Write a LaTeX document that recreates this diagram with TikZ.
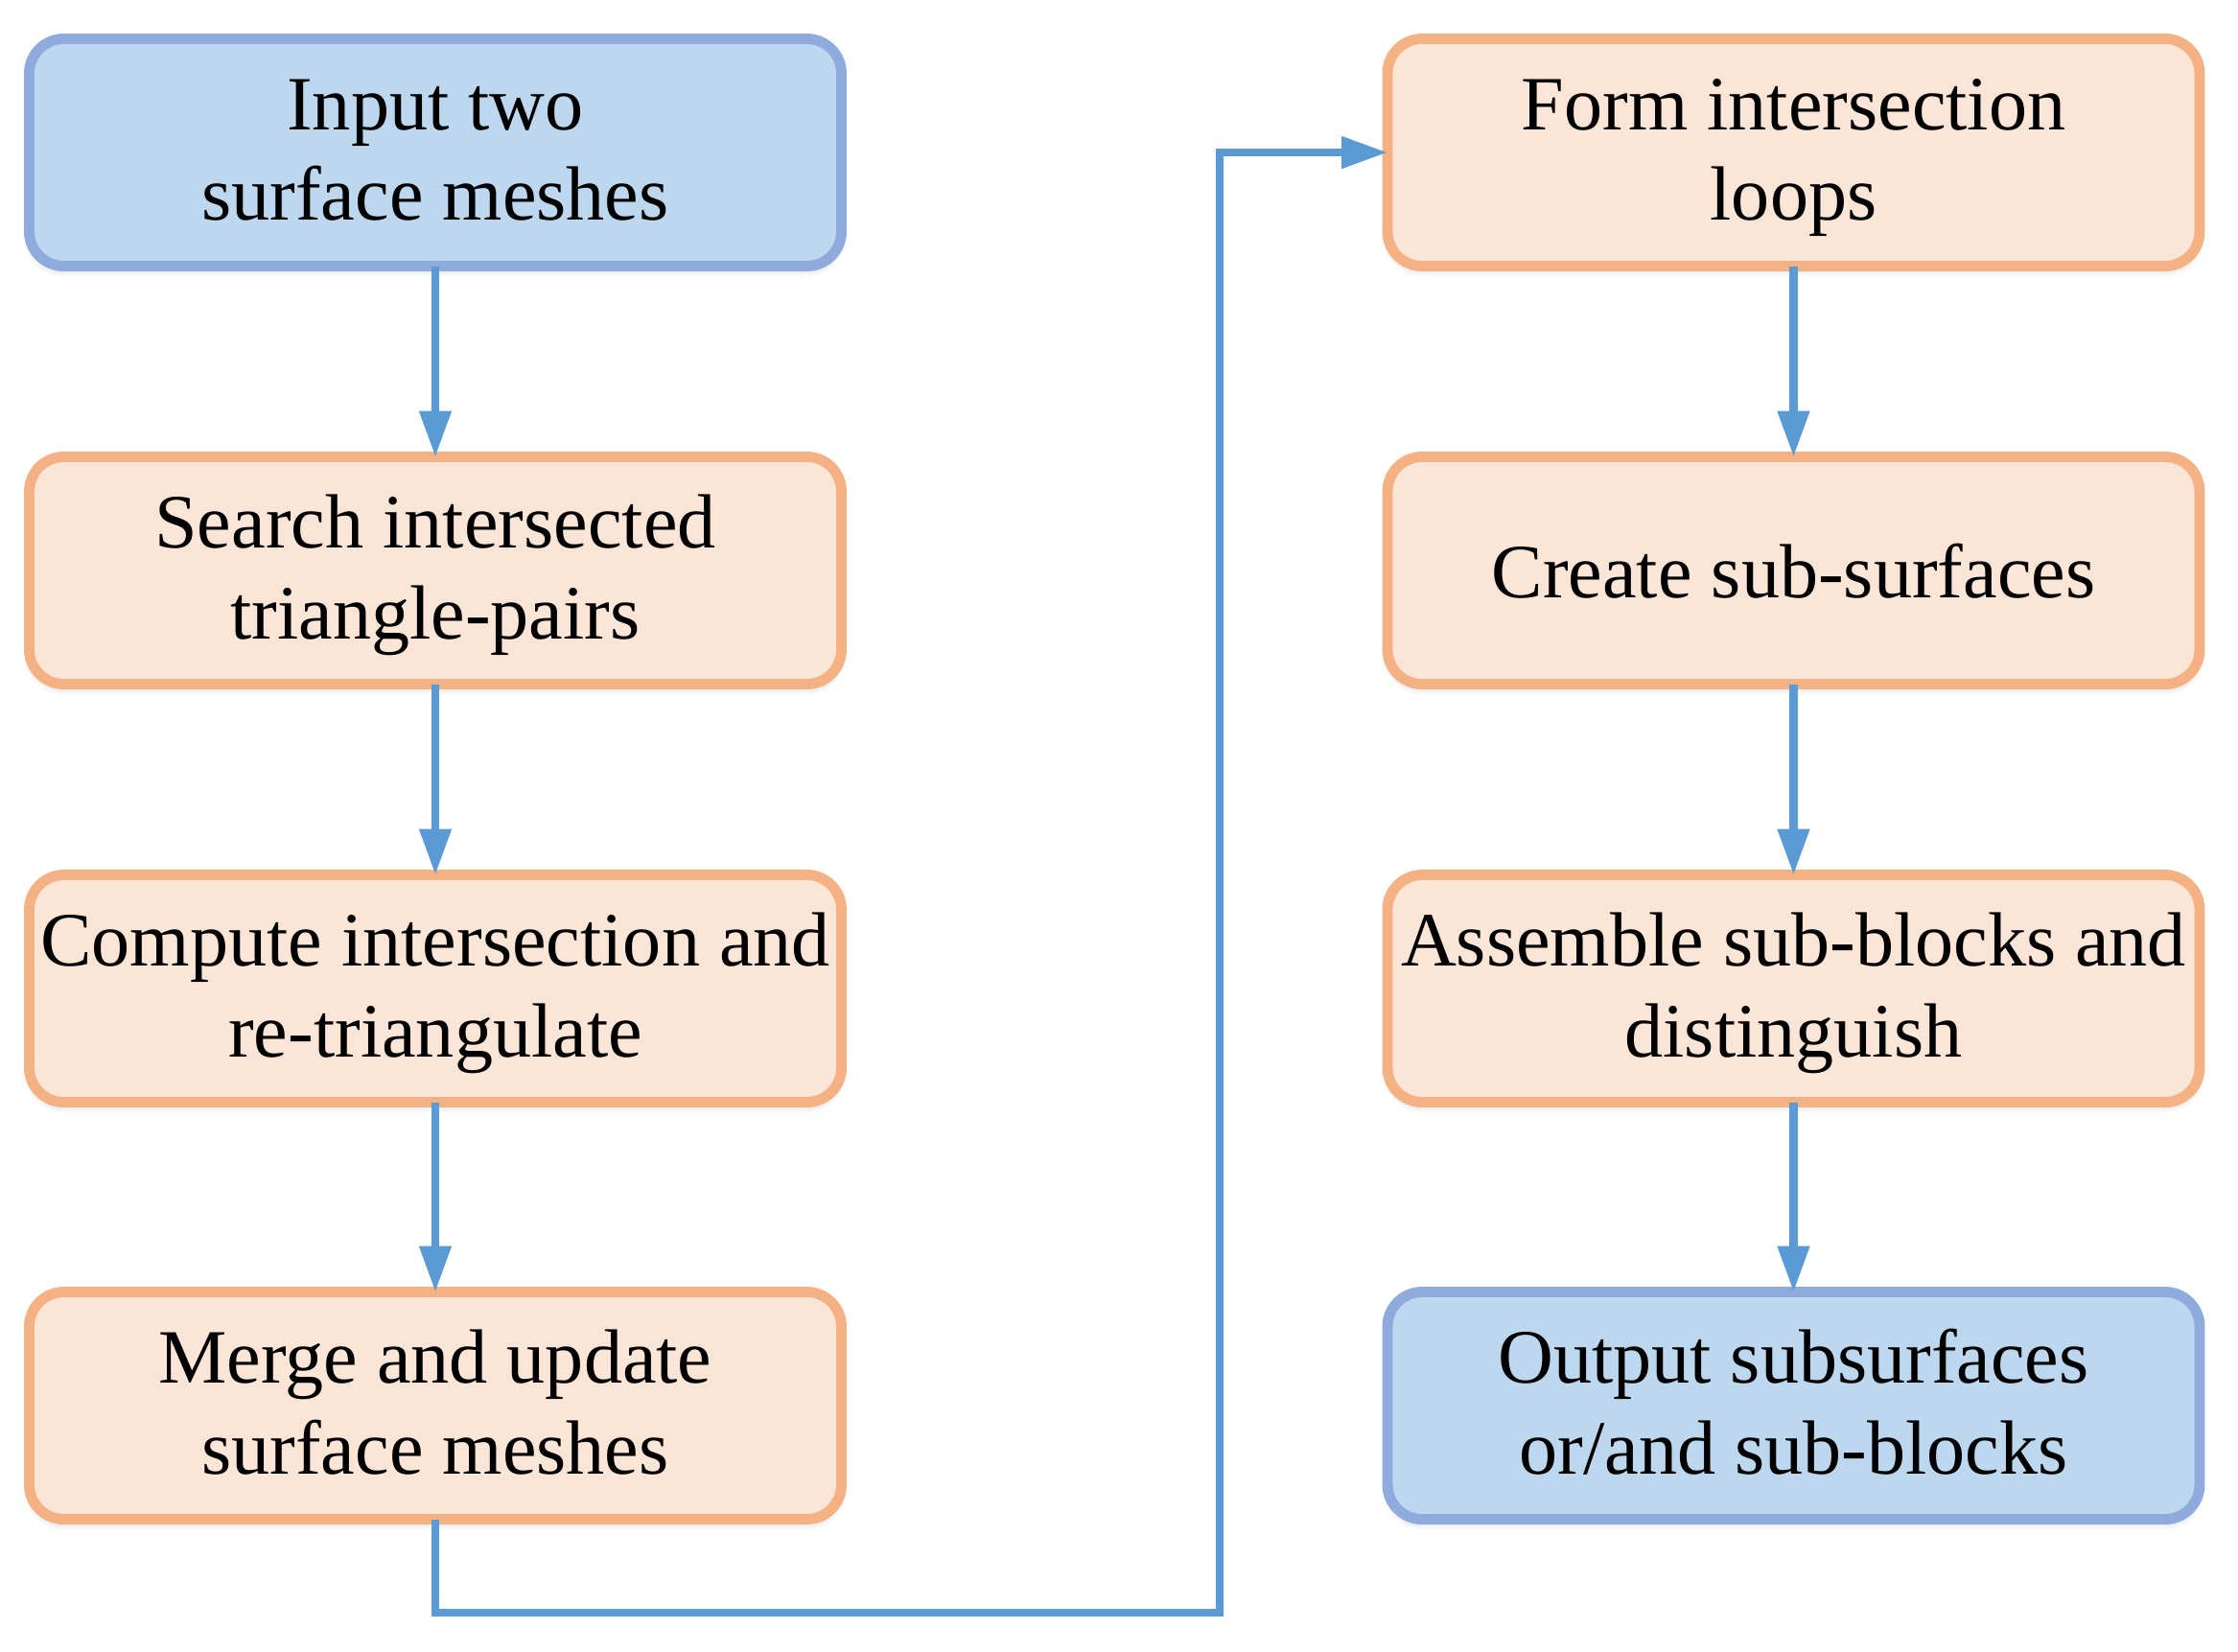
\documentclass[tikz,border=0pt]{standalone}
\usepackage{fontspec}
\setmainfont{Liberation Serif}
\usetikzlibrary{arrows.meta,shadows.blur}
\definecolor{bfill}{HTML}{BDD7EE}
\definecolor{bdraw}{HTML}{8FAADC}
\definecolor{ofill}{HTML}{FBE5D6}
\definecolor{odraw}{HTML}{F4B183}
\definecolor{conn}{HTML}{5B9BD5}
\tikzset{
  box/.style={rectangle, rounded corners=0.36cm, line width=3.1pt,
    minimum width=8.47cm, minimum height=2.37cm, align=center, outer sep=0pt,
    font=\fontsize{22.8}{27}\selectfont, inner sep=0pt,
    text height=40.4pt, text depth=0pt,
    blur shadow={shadow xshift=0pt, shadow yshift=-0.06cm, shadow blur steps=6, shadow opacity=15, shadow blur radius=0.06cm}},
  bluebox/.style={box, fill=bfill, draw=bdraw},
  orangebox/.style={box, fill=ofill, draw=odraw},
  oneline/.style={text height=16pt, text depth=0pt},
  link/.style={draw=conn, line width=2.3pt, -{Triangle[length=0.48cm, width=0.32cm]}},
}
\begin{document}
\begin{tikzpicture}
\useasboundingbox (0,0) rectangle (23.34,-17.23);
\node[bluebox]   (a) at (4.54,-1.59)  {Input two\\surface meshes};
\node[orangebox] (b) at (4.54,-5.95)  {Search intersected\\triangle-pairs};
\node[orangebox] (c) at (4.54,-10.31) {Compute intersection and\\re-triangulate};
\node[orangebox] (d) at (4.54,-14.66) {Merge and update\\surface meshes};
\node[orangebox] (e) at (18.705,-1.59)  {Form intersection\\loops};
\node[orangebox, oneline] (f) at (18.705,-5.95)  {Create sub-surfaces};
\node[orangebox] (g) at (18.705,-10.31) {Assemble sub-blocks and\\distinguish};
\node[bluebox]   (h) at (18.705,-14.66) {Output subsurfaces\\or/and sub-blocks};
\draw[link] (a) -- (b);
\draw[link] (b) -- (c);
\draw[link] (c) -- (d);
\draw[link] (e) -- (f);
\draw[link] (f) -- (g);
\draw[link] (g) -- (h);
\coordinate (p1) at (4.54,-16.82);
\coordinate (p2) at (12.72,-16.82);
\coordinate (p3) at (12.72,-1.59);
\draw[link, line join=miter] (d.south) -- (p1) -- (p2) -- (p3) -- (e.west);
\end{tikzpicture}
\end{document}
